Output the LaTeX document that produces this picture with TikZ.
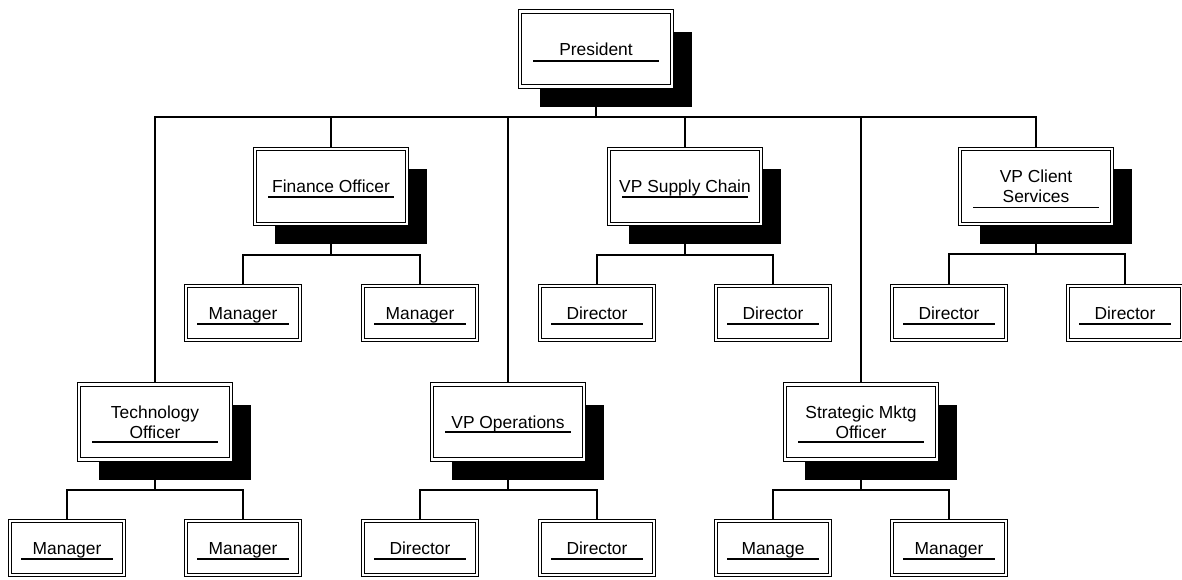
\documentclass[tikz,border=0pt]{standalone}
\usepackage{fontspec}
\setmainfont{Liberation Sans}
\usetikzlibrary{shadows,backgrounds}
\newcommand\bxt[1]{\rule{0pt}{12.5pt}\smash{#1}}
\begin{document}
\begin{tikzpicture}[x=1pt,y=-1pt,
  every node/.style={font=\fontsize{17.4}{20}\selectfont, align=center, inner sep=0pt},
  boxbase/.style={draw, line width=1pt, double=white, double distance=2.2pt, fill=white},
  bigbox/.style={boxbase, minimum width=152pt, minimum height=75pt,
    general shadow={fill=black, shadow xshift=20pt, shadow yshift=-20pt}},
  smallbox/.style={boxbase, minimum width=114pt, minimum height=54pt},
  uline/.style 2 args={path picture={\draw[line width=1.1pt]
    ([xshift=#2pt,yshift=-#1pt]path picture bounding box.west) --
    ([xshift=-#2pt,yshift=-#1pt]path picture bounding box.east);}},
  conn/.style={draw, line width=1.1pt}
]
\useasboundingbox (0,0) rectangle (1182,579);

% level 1
\node[bigbox, uline={12}{13}] (pres) at (596,49) {\bxt{President}};
% level 2 upper
\node[bigbox, uline={10.5}{13}] (fin) at (331,186.5) {\bxt{Finance Officer}};
\node[bigbox, uline={10.5}{13}] (sup) at (685,186.5) {\bxt{VP Supply Chain}};
\node[bigbox, uline={21}{13}] (cli) at (1036,186.5) {\bxt{VP Client}\\\bxt{Services}};
% level 2 lower
\node[bigbox, uline={20}{13}] (tech) at (155,422) {\bxt{Technology}\\\bxt{Officer}};
\node[bigbox, uline={10}{13}] (ops) at (508,422) {\bxt{VP Operations}};
\node[bigbox, uline={20}{13}] (strat) at (861,422) {\bxt{Strategic Mktg}\\\bxt{Officer}};
% top row of small boxes
\node[smallbox, uline={11}{11}] (fm1) at (243,313) {\bxt{Manager}};
\node[smallbox, uline={11}{11}] (fm2) at (420,313) {\bxt{Manager}};
\node[smallbox, uline={11}{11}] (sd1) at (597,313) {\bxt{Director}};
\node[smallbox, uline={11}{11}] (sd2) at (773,313) {\bxt{Director}};
\node[smallbox, uline={11}{11}] (cd1) at (949,313) {\bxt{Director}};
\node[smallbox, uline={11}{11}] (cd2) at (1125,313) {\bxt{Director}};
% bottom row of small boxes
\node[smallbox, uline={11}{11}] (tm1) at (67,548) {\bxt{Manager}};
\node[smallbox, uline={11}{11}] (tm2) at (243,548) {\bxt{Manager}};
\node[smallbox, uline={11}{11}] (od1) at (420,548) {\bxt{Director}};
\node[smallbox, uline={11}{11}] (od2) at (597,548) {\bxt{Director}};
\node[smallbox, uline={11}{11}] (sm1) at (773,548) {\bxt{Manage}};
\node[smallbox, uline={11}{11}] (sm2) at (949,548) {\bxt{Manager}};

\begin{pgfonlayer}{background}
  \coordinate (bus) at (596,117);
  \coordinate (finbus) at (331,255);
  \coordinate (supbus) at (685,255);
  \coordinate (clibus) at (1036,254);
  \coordinate (techbus) at (155,490);
  \coordinate (opsbus) at (508,490);
  \coordinate (stratbus) at (861,490);
  \draw[conn] (pres.center) -- (bus);
  \draw[conn] (tech.north) |- (bus) -| (cli.north);
  \draw[conn] (fin.north) -- (fin.north |- bus);
  \draw[conn] (ops.north) -- (ops.north |- bus);
  \draw[conn] (sup.north) -- (sup.north |- bus);
  \draw[conn] (strat.north) -- (strat.north |- bus);
  \draw[conn] (fin.center) -- (finbus);
  \draw[conn] (fm1.north) |- (finbus) -| (fm2.north);
  \draw[conn] (sup.center) -- (supbus);
  \draw[conn] (sd1.north) |- (supbus) -| (sd2.north);
  \draw[conn] (cli.center) -- (clibus);
  \draw[conn] (cd1.north) |- (clibus) -| (cd2.north);
  \draw[conn] (tech.center) -- (techbus);
  \draw[conn] (tm1.north) |- (techbus) -| (tm2.north);
  \draw[conn] (ops.center) -- (opsbus);
  \draw[conn] (od1.north) |- (opsbus) -| (od2.north);
  \draw[conn] (strat.center) -- (stratbus);
  \draw[conn] (sm1.north) |- (stratbus) -| (sm2.north);
\end{pgfonlayer}
\end{tikzpicture}
\end{document}
